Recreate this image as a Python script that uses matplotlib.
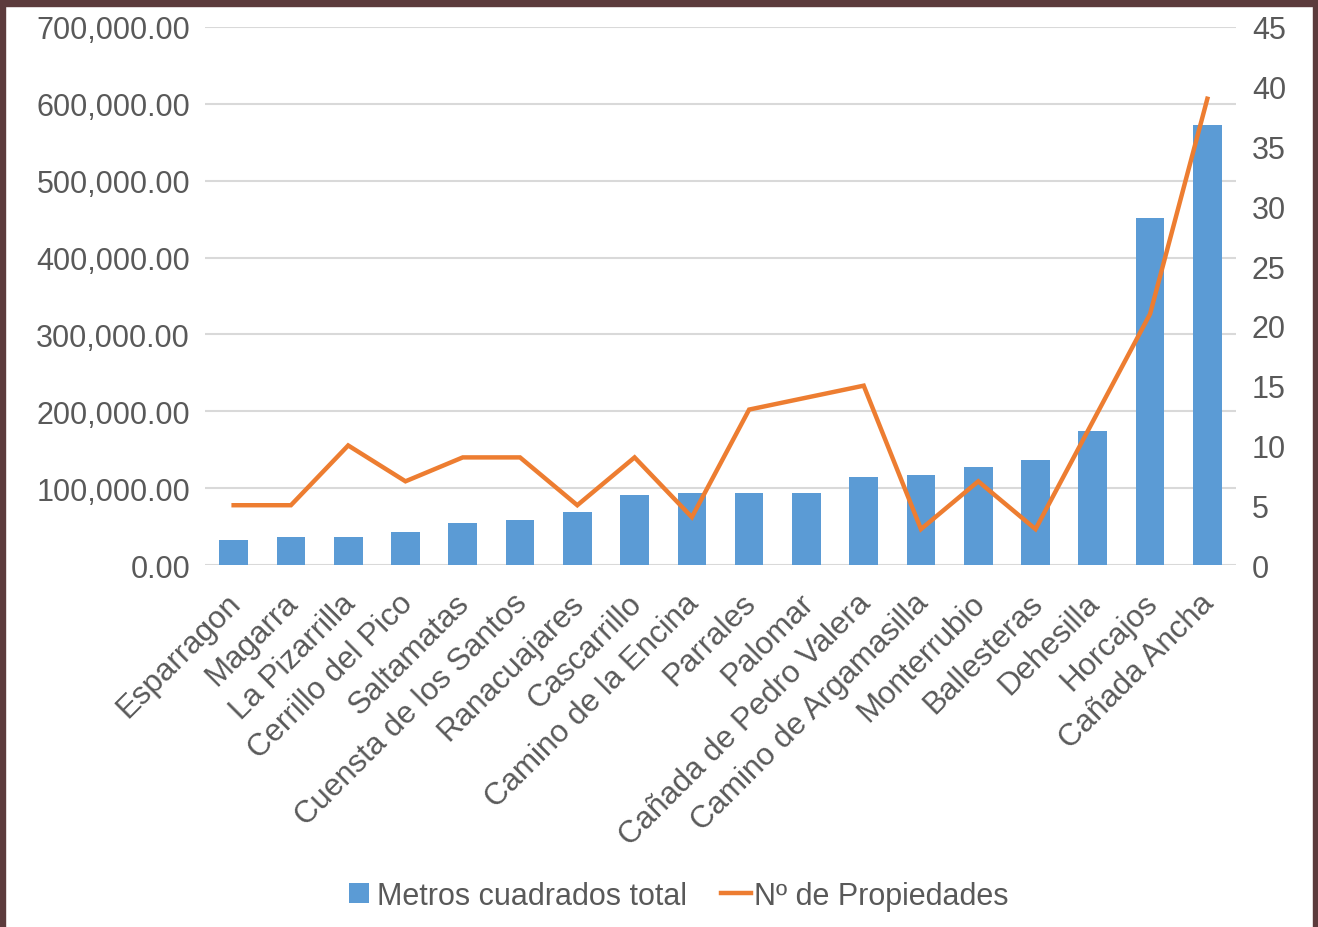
import matplotlib
matplotlib.use("Agg")
import matplotlib.pyplot as plt
from matplotlib.patches import Rectangle
from matplotlib.lines import Line2D
from matplotlib.ticker import FuncFormatter, MultipleLocator
from matplotlib.transforms import ScaledTranslation

plt.rcParams['font.family'] = ['Liberation Sans', 'DejaVu Sans']

parajes = [
    "Esparragon", "Magarra", "La Pizarrilla", "Cerrillo del Pico", "Saltamatas",
    "Cuensta de los Santos", "Ranacuajares", "Cascarrillo", "Camino de la Encina",
    "Parrales", "Palomar", "Cañada de Pedro Valera", "Camino de Argamasilla",
    "Monterrubio", "Ballesteras", "Dehesilla", "Horcajos", "Cañada Ancha",
]
metros_cuadrados = [
    33000, 36000, 36000, 42500, 54500, 58000, 68500, 91500, 94000,
    94000, 94000, 114500, 117500, 127500, 137000, 175000, 451000, 572000,
]
num_propiedades = [5, 5, 10, 7, 9, 9, 5, 9, 4, 13, 14, 15, 3, 7, 3, 12, 21, 39]

BAR_COLOR = "#5B9BD5"
LINE_COLOR = "#ED7D31"
TEXT_COLOR = "#595959"
GRID_COLOR = "#D9D9D9"
FRAME_COLOR = "#5C3B3C"

fig = plt.figure(figsize=(13.18, 9.28), dpi=100)
ax = fig.add_axes([205 / 1318, 1 - 566 / 928, (1236 - 205) / 1318, (566 - 28) / 928])

x = range(len(parajes))
ax.bar(x, metros_cuadrados, width=0.5, color=BAR_COLOR, zorder=2)
ax.set_xlim(-0.5, len(parajes) - 0.5)
ax.set_ylim(0, 700000)
ax.yaxis.set_major_locator(MultipleLocator(100000))
ax.yaxis.set_major_formatter(FuncFormatter(lambda v, _: f"{v:,.2f}"))
ax.grid(axis="y", color=GRID_COLOR, linewidth=1.5, zorder=0)
ax.set_axisbelow(True)

ax2 = ax.twinx()
ax2.plot(x, num_propiedades, color=LINE_COLOR, linewidth=3.2,
         solid_joinstyle="miter", zorder=3)
ax2.set_ylim(0, 45)
ax2.yaxis.set_major_locator(MultipleLocator(5))

for a in (ax, ax2):
    for s in a.spines.values():
        s.set_visible(False)
    a.tick_params(length=0, labelsize=22, labelcolor=TEXT_COLOR)

ax.tick_params(axis="y", pad=10.8)
ax2.tick_params(axis="y", pad=11.5)

ax.set_xticks(list(x))
ax.set_xticklabels(parajes, rotation=45, ha="right", va="top",
                   rotation_mode="anchor", fontsize=22.5, color=TEXT_COLOR)
ax.tick_params(axis="x", pad=12)
shift = ScaledTranslation(-8 / 100, -6 / 100, fig.dpi_scale_trans)
for lbl in ax.get_xticklabels():
    lbl.set_transform(lbl.get_transform() + shift)

legend_handles = [
    Line2D([], [], linestyle="none", marker="s", markersize=14,
           markerfacecolor=BAR_COLOR, markeredgewidth=0, label="Metros cuadrados total"),
    Line2D([], [], color=LINE_COLOR, linewidth=3.2, label="Nº de Propiedades"),
]
fig.legend(handles=legend_handles, loc="center", bbox_to_anchor=(676 / 1318, 1 - 897 / 928),
           ncol=2, frameon=False, fontsize=22, labelcolor=TEXT_COLOR,
           handlelength=1.0, handletextpad=0.1, columnspacing=1.1)

# dark frame along the top and the sides
fig.patches.append(Rectangle((0, 1 - 7 / 928), 1, 7 / 928, transform=fig.transFigure,
                             color=FRAME_COLOR, zorder=10))
fig.patches.append(Rectangle((0, 0), 5 / 1318, 1, transform=fig.transFigure,
                             color=FRAME_COLOR, zorder=10))
fig.patches.append(Rectangle((1 - 5 / 1318, 0), 5 / 1318, 1, transform=fig.transFigure,
                             color=FRAME_COLOR, zorder=10))

fig.savefig("out.png", dpi=100)
